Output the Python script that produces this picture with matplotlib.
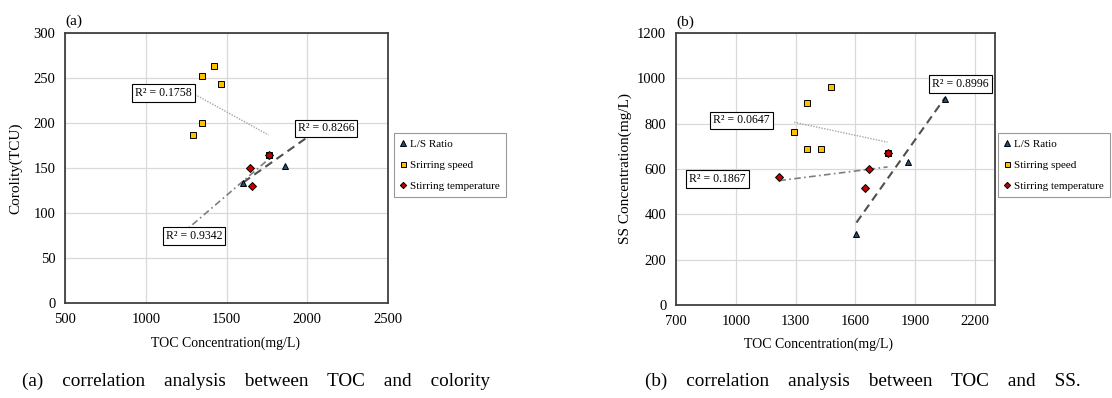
import numpy as np
import matplotlib.pyplot as plt

plt.rcParams['font.family'] = ['Liberation Serif', 'DejaVu Serif']

# (a) TOC vs colority
a_ls_x = [1603, 1760, 1860, 2050]
a_ls_y = [133, 165, 152, 195]
a_speed_x = [1290, 1350, 1350, 1420, 1465, 1760]
a_speed_y = [187, 200, 252, 264, 243, 165]
a_temp_x = [1218, 1642, 1660, 1760]
a_temp_y = [77, 150, 130, 165]
a_r2 = ['R² = 0.8266', 'R² = 0.1758', 'R² = 0.9342']

# (b) TOC vs SS
b_ls_x = [1605, 1761, 1866, 2050]
b_ls_y = [312, 672, 632, 908]
b_speed_x = [1293, 1356, 1356, 1426, 1475, 1761]
b_speed_y = [764, 890, 690, 687, 963, 672]
b_temp_x = [1218, 1650, 1666, 1761]
b_temp_y = [565, 516, 600, 672]
b_r2 = ['R² = 0.8996', 'R² = 0.0647', 'R² = 0.1867']

names_a = ['L/S Ratio', 'Srirring speed', 'Stirring temperature']
names_b = ['L/S Ratio', 'Stirring speed', 'Stirring temperature']

markers = ['^', 's', 'D']
fills = ['#1F4E79', '#FFC000', '#C00000']
msizes = [5, 4.5, 4]
trend_styles = [dict(ls=(0, (4, 2.5)), color='#505050', lw=1.5),
                dict(ls=(0, (1, 1)), color='#A6A6A6', lw=1.0),
                dict(ls=(0, (4, 2, 1, 2)), color='#7F7F7F', lw=1.2)]

fig = plt.figure(figsize=(11.12, 3.98), dpi=100)
ax_a = fig.add_axes([0.0585, 0.2387, 0.2905, 0.678])
ax_b = fig.add_axes([0.6079, 0.2337, 0.2869, 0.6834])


def draw_panel(ax, xs, ys, names, r2, label_pos):
    handles = []
    for i in range(3):
        x = np.array(xs[i], dtype=float)
        y = np.array(ys[i], dtype=float)
        k, b = np.polyfit(x, y, 1)
        tx = np.array([x.min(), x.max()])
        ax.plot(tx, k * tx + b, zorder=3, **trend_styles[i])
        h, = ax.plot(x, y, ls='none', marker=markers[i], ms=msizes[i],
                     mfc=fills[i], mec='black', mew=0.7, zorder=4 + i,
                     label=names[i])
        handles.append(h)
        ax.text(label_pos[i][0], label_pos[i][1], r2[i], fontsize=8.5,
                ha='center', va='center', zorder=10,
                bbox=dict(boxstyle='square,pad=0.25', fc='white',
                          ec='black', lw=0.8))
    ax.grid(True, color='#D9D9D9', lw=0.9)
    ax.set_axisbelow(True)
    for s in ax.spines.values():
        s.set_color('#404040')
        s.set_linewidth(1.3)
    ax.tick_params(length=0, pad=7, labelsize=10.5)
    return handles


ha = draw_panel(ax_a, [a_ls_x, a_speed_x, a_temp_x],
                [a_ls_y, a_speed_y, a_temp_y], names_a, a_r2,
                [(2117, 194), (1108, 233), (1299, 74)])
ax_a.set_xlim(500, 2500)
ax_a.set_ylim(0, 300)
ax_a.set_xticks(range(500, 2501, 500))
ax_a.set_yticks(range(0, 301, 50))
ax_a.set_ylabel('Corolity(TCU)', fontsize=11)
ax_a.yaxis.set_label_coords(-0.133, 0.5)
ax_a.set_xlabel('TOC Concentration(mg/L)', fontsize=10)
ax_a.xaxis.set_label_coords(0.497, -0.125)

hb = draw_panel(ax_b, [b_ls_x, b_speed_x, b_temp_x],
                [b_ls_y, b_speed_y, b_temp_y], names_b, b_r2,
                [(2127, 975), (1029, 814), (909, 554)])
ax_b.set_xlim(700, 2300)
ax_b.set_ylim(0, 1200)
ax_b.set_xticks(range(700, 2201, 300))
ax_b.set_yticks(range(0, 1201, 200))
ax_b.set_ylabel('SS Concentration(mg/L)', fontsize=11)
ax_b.yaxis.set_label_coords(-0.138, 0.5)
ax_b.set_xlabel('TOC Concentration(mg/L)', fontsize=10)
ax_b.xaxis.set_label_coords(0.448, -0.12)

leg_kw = dict(loc='upper left', bbox_transform=fig.transFigure,
              borderaxespad=0, fontsize=8, frameon=True, fancybox=False,
              handlelength=0.5, handletextpad=0.4, labelspacing=1.0,
              borderpad=0.55, markerscale=0.8)
la = fig.legend(handles=ha, bbox_to_anchor=(394 / 1112, 1 - 133 / 398), **leg_kw)
lb = fig.legend(handles=hb, bbox_to_anchor=(998 / 1112, 1 - 133 / 398), **leg_kw)
for lg in (la, lb):
    lg.get_frame().set_edgecolor('#808080')
    lg.get_frame().set_linewidth(0.8)

fig.text(65 / 1112, 1 - 21 / 398, '(a)', fontsize=11, va='center')
fig.text(676 / 1112, 1 - 22 / 398, '(b)', fontsize=11, va='center')

fig.text(22 / 1112, 1 - 381 / 398,
         '(a)    correlation    analysis    between    TOC    and    colority',
         fontsize=13.8, va='center')
fig.text(645 / 1112, 1 - 381 / 398,
         '(b)    correlation    analysis    between    TOC    and    SS.',
         fontsize=13.8, va='center')

fig.savefig('out.png', dpi=100)
